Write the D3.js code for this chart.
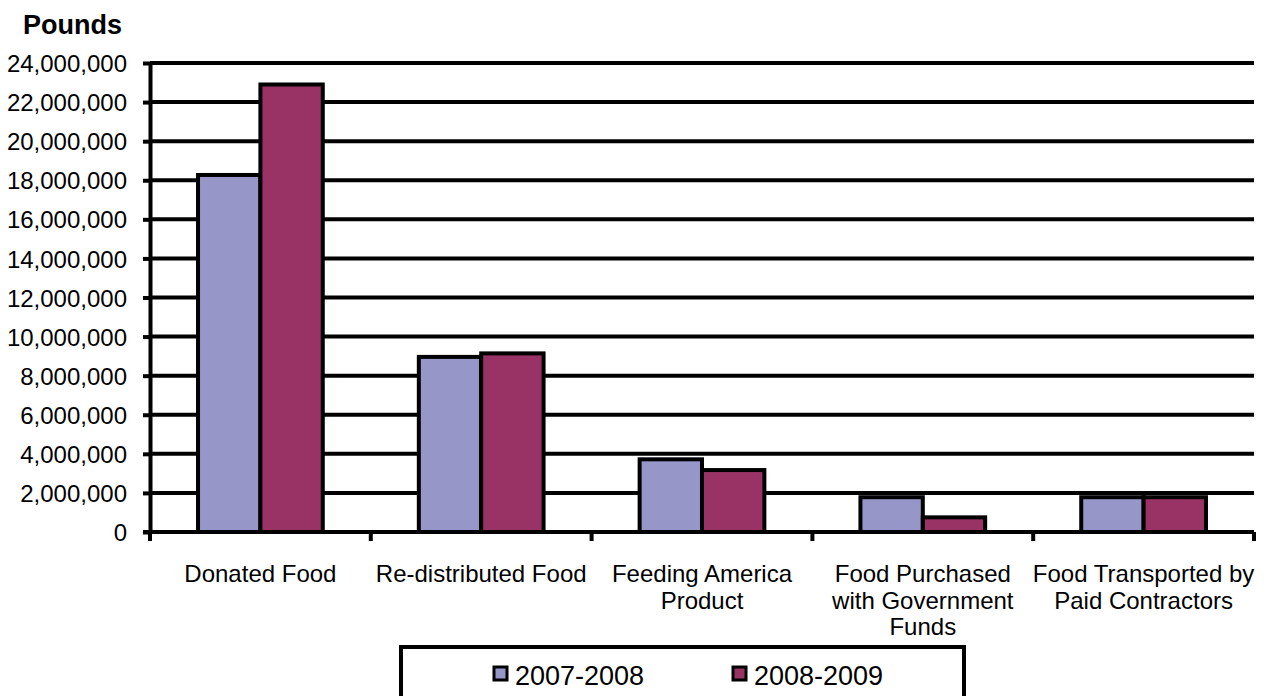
<!DOCTYPE html>
<html>
<head>
<meta charset="utf-8">
<script src="https://cdn.jsdelivr.net/npm/d3@7"></script>
<style>
  body { margin: 0; background: #fff; }
  svg text { font-family: "Liberation Sans", Arial, sans-serif; fill: #000; }
</style>
</head>
<body>
<div id="chart"></div>
<script>
  // data
  var categories = ["Donated Food", "Re-distributed Food", "Feeding America Product",
                    "Food Purchased with Government Funds", "Food Transported by Paid Contractors"]
  var categoryLines = [["Donated Food"], ["Re-distributed Food"], ["Feeding America", "Product"],
                       ["Food Purchased", "with Government", "Funds"], ["Food Transported by", "Paid Contractors"]]
  var seriesNames = ["2007-2008", "2008-2009"]
  var values0708 = [18270000, 8960000, 3720000, 1780000, 1780000]
  var values0809 = [22900000, 9140000, 3170000, 750000, 1780000]
  var yTicks = d3.range(0, 24000001, 2000000)
  var colors = ["#9696c9", "#993366"]

  // note: don't call these top/left, window.top is read-only
  var chartW = 1264, chartH = 696
    , plotL = 150, plotR = 1254, plotT = 63, plotB = 532

  var svg = d3.select("#chart").append("svg")
    .attr("width", chartW)
    .attr("height", chartH)

  var x0 = d3.scaleBand().domain(categories).range([plotL, plotR]).padding(0)
  var x1 = d3.scaleBand().domain(seriesNames).range([0, x0.bandwidth()])
    .paddingInner(0).paddingOuter(0.77)
  var y = d3.scaleLinear().domain([0, 24000000]).range([plotB, plotT])

  // gridlines
  svg.append("g").selectAll("line")
      .data(yTicks.slice(1))
    .enter().append("line")
      .attr("x1", plotL).attr("x2", plotR)
      .attr("y1", function (d) { return y(d) }).attr("y2", function (d) { return y(d) })
      .style("stroke", "#000").style("stroke-width", 4)

  // bars
  var rows = categories.map(function (c, i) {
    return { cat: c, vals: [values0708[i], values0809[i]] }
  })
  var groups = svg.append("g").selectAll("g")
      .data(rows)
    .enter().append("g")
      .attr("transform", function (d) { return "translate(" + x0(d.cat) + ",0)" })
  groups.selectAll("rect")
      .data(function (d) { return d.vals.map(function (v, j) { return { s: seriesNames[j], v: v, j: j } }) })
    .enter().append("rect")
      .attr("x", function (d) { return x1(d.s) })
      .attr("width", x1.bandwidth())
      .attr("y", function (d) { return y(d.v) })
      .attr("height", function (d) { return y(0) - y(d.v) })
      .style("fill", function (d) { return colors[d.j] })
      .style("stroke", "#000").style("stroke-width", 4)

  // y axis
  var yAxis = svg.append("g")
    .attr("transform", "translate(" + plotL + ",0)")
    .call(d3.axisLeft(y).tickValues(yTicks).tickFormat(d3.format(",")).tickSize(7).tickSizeOuter(0).tickPadding(16))
  yAxis.select(".domain").style("stroke", "#000").style("stroke-width", 4)
  yAxis.selectAll(".tick line").style("stroke", "#000").style("stroke-width", 4)
  yAxis.selectAll(".tick text").style("font-size", "24px").attr("dy", "0.36em")

  // x axis line and ticks at band edges
  var edges = categories.map(function (c) { return x0(c) }).concat([plotR])
  svg.append("line")
    .attr("x1", plotL - 7).attr("x2", plotR)
    .attr("y1", y(0)).attr("y2", y(0))
    .style("stroke", "#000").style("stroke-width", 4)
  svg.append("g").selectAll("line")
      .data(edges)
    .enter().append("line")
      .attr("x1", function (d) { return d }).attr("x2", function (d) { return d })
      .attr("y1", y(0)).attr("y2", y(0) + 9)
      .style("stroke", "#000").style("stroke-width", 4)

  // category labels
  svg.append("g").selectAll("text")
      .data(categories)
    .enter().append("text")
      .attr("text-anchor", "middle")
      .attr("y", 582)
      .style("font-size", "24px")
      .each(function (d, i) {
        var t = d3.select(this)
        categoryLines[i].forEach(function (line, k) {
          t.append("tspan")
            .attr("x", x0(d) + x0.bandwidth() / 2)
            .attr("dy", k === 0 ? 0 : 26.5)
            .text(line)
        })
      })

  // axis title
  svg.append("text")
    .attr("x", 23).attr("y", 34)
    .style("font-size", "27px").style("font-weight", "bold")
    .text("Pounds")

  // legend
  svg.append("rect")
    .attr("x", 401).attr("y", 647)
    .attr("width", 563).attr("height", 70)
    .style("fill", "#fff").style("stroke", "#000").style("stroke-width", 4)
  var legendX = [494, 733]
  var legend = svg.append("g").selectAll("g")
      .data(seriesNames)
    .enter().append("g")
      .attr("transform", function (d, i) { return "translate(" + legendX[i] + ",0)" })
  legend.append("rect")
    .attr("x", 0).attr("y", 667).attr("width", 13).attr("height", 13)
    .style("fill", function (d, i) { return colors[i] })
    .style("stroke", "#000").style("stroke-width", 3)
  legend.append("text")
    .attr("x", 21).attr("y", 685)
    .style("font-size", "27px")
    .text(function (d) { return d })
</script>
</body>
</html>
